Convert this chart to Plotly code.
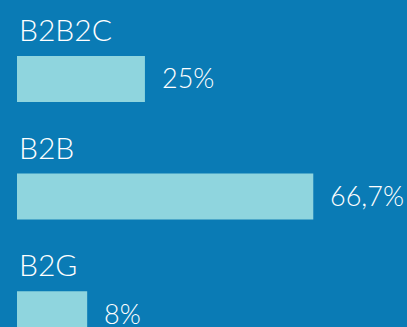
import plotly.graph_objects as go

categories = ["B2B2C", "B2B", "B2G"]
value_labels = ["25%", "66,7%", "8%"]
# bar lengths as drawn in the picture (not proportional to the printed labels)
bar_lengths = [28.8, 66.7, 15.8]

BG = "#0a7bb5"
BAR = "#8fd5de"
TXT = "#ffffff"
FONT = "Lato"

fig = go.Figure()
fig.add_trace(go.Bar(
    x=bar_lengths, y=categories, orientation="h",
    marker=dict(color=BAR, line=dict(width=0)),
    width=0.39, hoverinfo="skip"
))

for cat, val, lab in zip(categories, bar_lengths, value_labels):
    # value to the right of the bar
    fig.add_annotation(x=val, y=cat, text=lab, showarrow=False,
                       xanchor="left", yanchor="middle", xshift=15, yshift=1,
                       font=dict(family=FONT, size=27, color=TXT, weight=300))
    # category name above the bar
    fig.add_annotation(x=0, y=cat, text=cat, showarrow=False,
                       xanchor="left", yanchor="middle", xshift=0, yshift=50,
                       font=dict(family=FONT, size=30, color=TXT, weight=300))

fig.update_layout(
    width=407, height=327,
    margin=dict(l=17, r=0, t=0, b=0),
    paper_bgcolor=BG, plot_bgcolor=BG,
    showlegend=False,
    xaxis=dict(visible=False, range=[0, 87.8], fixedrange=True),
    yaxis=dict(visible=False, categoryorder="array", categoryarray=categories,
               range=[2.11, -0.672], fixedrange=True),
)

fig.write_html("out.html", config={"displayModeBar": False},
               post_script="document.body.style.margin='0';")
